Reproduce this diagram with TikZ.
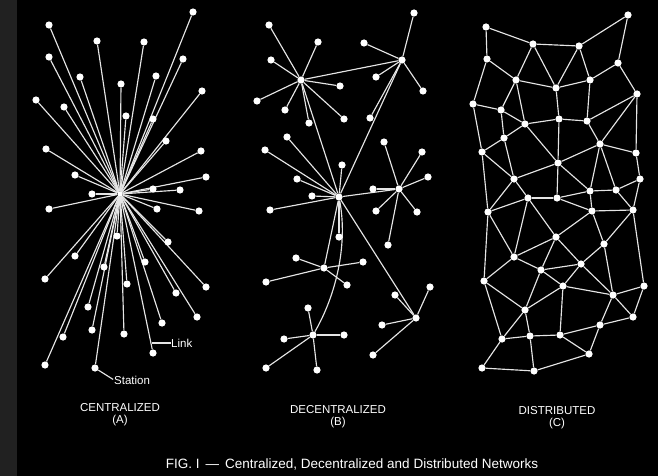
\documentclass[tikz,border=0pt]{standalone}
\usepackage{fontspec}
\setmainfont{Liberation Sans}
\pgfdeclarelayer{bg}
\pgfdeclarelayer{edges}
\pgfsetlayers{bg,edges,main}
\begin{document}
\begin{tikzpicture}[x=1pt,y=-1pt,
  stn/.style={circle,fill=white,inner sep=0pt,minimum size=7.2pt},
  hubn/.style={circle,fill=white,inner sep=0pt,minimum size=5pt},
  lnk/.style={draw=white!90!black,line width=1.15pt},
  lbl/.style={text=white,font=\fontsize{11.5}{12}\selectfont,inner sep=0pt},
  figcap/.style={text=white,font=\fontsize{13.5}{14}\selectfont,inner sep=0pt}]
\begin{pgfonlayer}{bg}
\fill[black] (0,0) rectangle (658,476);
\fill[black!87] (0,0) rectangle (17,476);
\end{pgfonlayer}
\useasboundingbox (0,0) rectangle (658,476);
% ---------------- (A) centralized
\node[hubn] (A0) at (120,194) {};
\foreach \n/\x/\y in {A1/49/25,A2/97/41,A3/144/42,A4/193/12,A5/49/57,A6/183/59,
  A7/80/77,A8/156/76,A9/121/84,A10/202/91,A11/36/100,A12/64/107,A13/126/116,
  A14/153/119,A15/166/141,A16/46/149,A17/201/151,A18/75/175,A19/206/177,
  A20/92/194,A21/153/189,A22/180/190,A23/49/209,A24/157/209,A25/199/211,
  A26/117/236,A27/168/242,A28/75/256,A29/145/262,A30/104/267,A31/45/279,
  A32/206/287,A33/127/284,A34/176/293,A35/88/307,A36/197/317,A37/162/323,
  A38/92/330,A39/63/337,A40/124/334,A41/153/353,A42/45/365,A43/95/368}
  \node[stn] (\n) at (\x,\y) {};
\begin{pgfonlayer}{edges}
\foreach \i in {1,...,43} \draw[lnk] (A0) -- (A\i);
\end{pgfonlayer}
\coordinate (lk) at (152,343);
\node[lbl,anchor=west] (linklbl) at (171,343) {Link};
\draw[lnk] (lk) -- (linklbl.west);
\node[lbl,anchor=west] (stlbl) at (114,380) {Station};
\draw[lnk,shorten >=1pt] (A43) -- (stlbl.west);
\node[lbl] (capA) at (120,408) {CENTRALIZED};
\node[lbl] (subA) at (120,421) {(A)};
% ---------------- (B) decentralized
\foreach \n/\x/\y in {B1/301/80,B2/402/60,B3/339/197,B4/399/189,B5/324/268,B6/313/335,B7/416/318,
  b11/269/25,b12/318/42,b13/271/60,b14/340/86,b15/257/101,b16/285/110,b17/309/123,b18/344/119,
  b21/414/13,b22/364/43,b23/376/77,b24/423/91,b25/370/118,
  b31/287/137,b32/265/150,b33/342/165,b34/297/179,b35/312/196,b36/270/210,b37/339/237,
  b41/373/189,b42/384/142,b43/422/152,b44/428/177,b45/376/211,b46/417/212,b47/388/245,
  b51/296/258,b52/363/262,b53/347/285,b54/266/282,
  b61/308/308,b62/284/339,b63/344/335,b64/266/368,b65/317/370,
  b71/430/287,b72/395/295,b73/382/325,b74/373/355}
  \node[stn] (\n) at (\x,\y) {};
\begin{pgfonlayer}{edges}
\foreach \a/\b in {B1/b11,B1/b12,B1/b13,B1/b14,B1/b15,B1/b16,B1/b17,B1/b18,
  B2/b21,B2/b22,B2/b23,B2/b24,B2/b25,
  B3/b31,B3/b32,B3/b33,B3/b34,B3/b35,B3/b36,B3/b37,
  B4/b41,B4/b42,B4/b43,B4/b44,B4/b45,B4/b46,B4/b47,
  B5/b51,B5/b52,B5/b53,B5/b54,
  B6/b61,B6/b62,B6/b63,B6/b64,B6/b65,
  B7/b71,B7/b72,B7/b73,B7/b74,
  B1/B2,B1/B3,B2/B3,B3/B4,B3/B5,B3/B7}
  \draw[lnk] (\a) -- (\b);
\draw[lnk] (B3) .. controls (348,245) and (336,295) .. (B6);
\end{pgfonlayer}
\node[lbl] (capB) at (338,410) {DECENTRALIZED};
\node[lbl] (subB) at (338,423) {(B)};
% ---------------- (C) distributed
\foreach \n/\x/\y in {c01/486/27,c02/628/15,c03/533/44,c04/579/46,c05/487/59,c06/618/63,
  c07/516/80,c08/556/88,c09/590/80,c10/637/94,c11/473/104,c12/501/110,c13/559/119,
  c14/587/121,c15/525/124,c16/504/138,c17/600/144,c18/482/152,c19/636/153,c20/558/163,
  c21/514/179,c22/640/179,c23/590/191,c24/616/190,c25/528/198,c26/557/198,
  d01/488/212,d02/592/211,d03/633/210,d04/556/237,d05/604/244,d06/514/257,d07/581/264,
  d08/541/270,d09/484/281,d10/563/286,d11/613/295,d12/644/286,d13/525/310,d14/633/317,
  d15/600/325,d16/502/339,d17/530/336,d18/560/335,d19/589/354,d20/482/368,d21/534/371}
  \node[stn] (\n) at (\x,\y) {};
\begin{pgfonlayer}{edges}
\foreach \a/\b in {c01/c03,c01/c05,c03/c04,c04/c02,c02/c06,c05/c07,c05/c11,c03/c07,
  c03/c08,c04/c08,c04/c09,c07/c08,c08/c09,c09/c06,c06/c10,c09/c14,c11/c12,c07/c12,
  c07/c15,c12/c15,c12/c16,c11/c18,c08/c13,c15/c13,c13/c14,c14/c10,c15/c20,c16/c15,
  c16/c18,c16/c21,c14/c17,c10/c17,c10/c19,c17/c19,c13/c20,c20/c17,c20/c21,c18/c21,
  c20/c26,c20/c23,c17/c23,c17/c24,c19/c22,c22/c24,c23/c24,c21/c25,c25/c26,c26/c23,
  c21/d01,d01/c25,c18/d01,c23/d02,c24/d03,c22/d03,d02/d03,c26/d02,c25/d04,c25/d06,
  d01/d06,d02/d04,d02/d05,d03/d05,d05/d07,d03/d12,d04/d06,d04/d08,d04/d07,d06/d08,
  d08/d07,d06/d09,d01/d09,d08/d10,d07/d10,d07/d11,d05/d11,d10/d11,d11/d12,d11/d14,
  d12/d14,d11/d15,d14/d15,d15/d18,d15/d19,d18/d19,d08/d13,d10/d13,d10/d18,d09/d13,
  d09/d16,d13/d16,d13/d17,d16/d17,d17/d18,d16/d20,d17/d21,d20/d21,d21/d19}
  \draw[lnk] (\a) -- (\b);
\end{pgfonlayer}
\node[lbl] (capC) at (557,411) {DISTRIBUTED};
\node[lbl] (subC) at (557,424) {(C)};
% ---------------- caption
\node[figcap] (fig) at (352,464) {FIG. I \,—\, Centralized, Decentralized and Distributed Networks};
\end{tikzpicture}
\end{document}
